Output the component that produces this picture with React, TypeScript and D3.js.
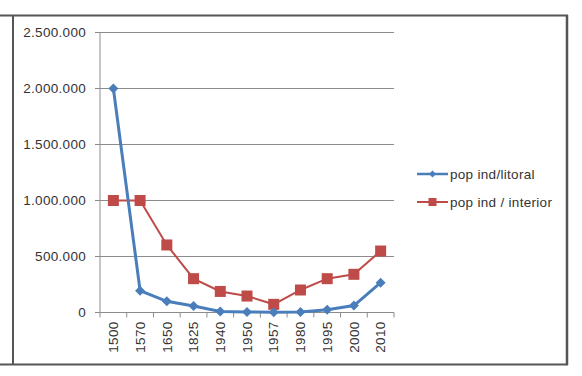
import React from "react";
import * as d3 from "d3";

const categories = ["1500", "1570", "1650", "1825", "1940", "1950", "1957", "1980", "1995", "2000", "2010"];
const litoral = [2000000, 195000, 100000, 58000, 10000, 5000, 3000, 5000, 25000, 62000, 266000];
const interior = [1000000, 1000000, 603000, 302000, 188000, 147000, 73000, 201000, 302000, 341000, 549000];
const yTicks = [0, 500000, 1000000, 1500000, 2000000, 2500000];
const seriesNames = ["pop ind/litoral", "pop ind / interior"];

const BLUE = "#4a7ebb";
const RED = "#be4b48";
const FONT = "'Liberation Sans', Arial, sans-serif";

export default function App() {
  const W = 582, H = 376;
  const left = 100, right = 394, top = 32.5, bottom = 312.5;
  const x = d3.scaleBand<string>().domain(categories).range([left, right]);
  const y = d3.scaleLinear().domain([0, 2500000]).range([bottom, top]);
  const fmt = (v: number) => d3.format(",")(v).replace(/,/g, ".");
  const cx = (c: string) => (x(c) as number) + x.bandwidth() / 2;
  const line = d3.line<number>().x((_, i) => cx(categories[i])).y((d) => y(d));
  const bounds = categories.map((c) => x(c) as number).concat([right]);

  return (
    <svg width={W} height={H} style={{ position: "absolute", left: 0, top: 0 }}>
      <rect x={0} y={0} width={W} height={H} fill="#fff" />
      {/* frame */}
      <line x1={0} x2={568} y1={15.5} y2={15.5} stroke="#555" strokeWidth={2} />
      <line x1={0} x2={568} y1={364.5} y2={364.5} stroke="#555" strokeWidth={2} />
      <line x1={13} x2={13} y1={15} y2={365} stroke="#555" strokeWidth={2} />
      <line x1={567} x2={567} y1={15} y2={365} stroke="#555" strokeWidth={2.5} />
      {/* gridlines */}
      {yTicks.map((t) => (
        <g key={t}>
          {t > 0 && <line x1={left} x2={right} y1={y(t)} y2={y(t)} stroke="#8c8c8c" strokeWidth={1} />}
          <line x1={left - 5} x2={left} y1={y(t)} y2={y(t)} stroke="#8c8c8c" strokeWidth={1} />
          <text x={86} y={y(t)} dy="0.35em" textAnchor="end" fontFamily={FONT} fontSize={13.5} letterSpacing={0.3} fill="#333">
            {fmt(t)}
          </text>
        </g>
      ))}
      <line x1={left} x2={left} y1={top} y2={bottom} stroke="#8c8c8c" strokeWidth={1} />
      <line x1={left} x2={right} y1={bottom} y2={bottom} stroke="#8c8c8c" strokeWidth={1} />
      {bounds.map((b, i) => (
        <line key={i} x1={b} x2={b} y1={bottom} y2={bottom + 5} stroke="#8c8c8c" strokeWidth={1} />
      ))}
      {categories.map((c) => (
        <text
          key={c}
          transform={`translate(${cx(c)},${bottom + 9}) rotate(-90)`}
          textAnchor="end"
          dy="0.35em"
          fontFamily={FONT}
          fontSize={13.5}
          letterSpacing={0.3}
          fill="#333"
        >
          {c}
        </text>
      ))}
      {/* series */}
      <path d={line(interior) || ""} fill="none" stroke={RED} strokeWidth={2} />
      {interior.map((v, i) => (
        <rect key={i} x={cx(categories[i]) - 5.5} y={y(v) - 5.5} width={11} height={11} fill={RED} />
      ))}
      <path d={line(litoral) || ""} fill="none" stroke={BLUE} strokeWidth={3} />
      {litoral.map((v, i) => (
        <path
          key={i}
          d={`M${cx(categories[i])},${y(v) - 5}L${cx(categories[i]) + 5},${y(v)}L${cx(categories[i])},${y(v) + 5}L${cx(categories[i]) - 5},${y(v)}Z`}
          fill={BLUE}
        />
      ))}
      {/* legend */}
      <g>
        <line x1={417} x2={448} y1={174} y2={174} stroke={BLUE} strokeWidth={2.5} />
        <path d="M432.5,170.5L436,174L432.5,177.5L429,174Z" fill={BLUE} />
        <text x={450} y={174} dy="0.35em" fontFamily={FONT} fontSize={13.5} letterSpacing={0.3} fill="#333">{seriesNames[0]}</text>
        <line x1={417} x2={448} y1={202} y2={202} stroke={RED} strokeWidth={2} />
        <rect x={428.5} y={198} width={8} height={8} fill={RED} />
        <text x={450} y={202} dy="0.35em" fontFamily={FONT} fontSize={13.5} letterSpacing={0.3} fill="#333">{seriesNames[1]}</text>
      </g>
    </svg>
  );
}
